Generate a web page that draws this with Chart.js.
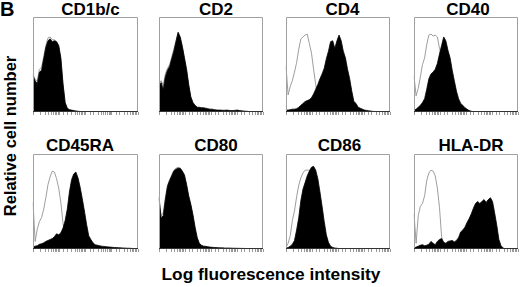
<!DOCTYPE html>
<html><head><meta charset="utf-8">
<script src="https://cdn.jsdelivr.net/npm/chart.js@4.4.1/dist/chart.umd.min.js"></script>
<style>
html,body{margin:0;padding:0;background:#fff;}
#fig{position:relative;width:520px;height:287px;overflow:hidden;background:#fff;font-family:"Liberation Sans",Arial,Helvetica,sans-serif;font-weight:bold;color:#000;}
.t{position:absolute;white-space:nowrap;line-height:1;}
canvas{position:absolute;}
</style></head><body><div id="fig"></div>
<script>
// ---- DATA (relative cell number per fluorescence channel, 0..1 of panel height) ----
const channels = Array.from({length: 50}, (_, i) => i);
const panelTitles = ['CD1b/c','CD2','CD4','CD40','CD45RA','CD80','CD86','HLA-DR'];
const figLetter = 'B';
const yAxisLabel = 'Relative cell number';
const xAxisLabel = 'Log fluorescence intensity';

const cd1bcStained = [0.38,0.33,0.30,0.42,0.44,0.56,0.68,0.75,0.77,0.74, 0.75,0.74,0.70,0.57,0.30,0.10,0.04,0.025,0.02,0.015, 0.01,0.008,0.005,0.004,0.003,0.002,0.002,0.001,0,0, 0,0,0,0,0,0,0,0,0,0, 0,0,0,0,0,0,0,0,0,0];
const cd1bcControl = [0.40,0.34,0.33,0.45,0.47,0.58,0.70,0.78,0.79,0.76, 0.76,0.74,0.69,0.55,0.28,0.09,0.03,0.02,0.015,0.01, 0.008,0.005,0.003,0.002,0,0,0,0,0,0, 0,0,0,0,0,0,0,0,0,0, 0,0,0,0,0,0,0,0,0,0];

const cd2Stained = [0.27,0.31,0.24,0.37,0.44,0.48,0.56,0.64,0.74,0.84, 0.79,0.69,0.57,0.45,0.29,0.16,0.10,0.07,0.05,0.05, 0.045,0.045,0.04,0.035,0.03,0.03,0.025,0.022,0.02,0.02, 0.018,0.018,0.02,0.017,0.015,0.015,0.018,0.02,0.015,0.012, 0.01,0.008,0.006,0.004,0.002,0,0,0,0,0];
const cd2Control = [0.30,0.33,0.28,0.40,0.46,0.50,0.58,0.66,0.75,0.83, 0.78,0.68,0.55,0.43,0.27,0.14,0.08,0.05,0.04,0.03, 0.025,0.02,0.018,0.015,0.012,0.01,0.008,0.006,0.005,0.004, 0.003,0.002,0,0,0,0,0,0,0,0, 0,0,0,0,0,0,0,0,0,0];

const cd4Stained = [0.02,0.02,0.025,0.03,0.03,0.035,0.05,0.07,0.09,0.11, 0.12,0.13,0.15,0.19,0.24,0.29,0.35,0.40,0.46,0.56, 0.64,0.74,0.75,0.67,0.75,0.81,0.75,0.64,0.57,0.45, 0.35,0.22,0.11,0.09,0.05,0.04,0.03,0.02,0.017,0.012, 0.01,0.006,0.004,0,0,0,0,0,0,0];
const cd4Control = [0.48,0.18,0.27,0.33,0.42,0.52,0.66,0.77,0.79,0.81, 0.82,0.72,0.62,0.45,0.29,0.14,0.07,0.045,0.03,0.015, 0.008,0.005,0,0,0,0,0,0,0,0, 0,0,0,0,0,0,0,0,0,0, 0,0,0,0,0,0,0,0,0,0];

const cd40Stained = [0.02,0.03,0.05,0.07,0.10,0.14,0.24,0.35,0.40,0.42, 0.45,0.51,0.61,0.70,0.79,0.75,0.65,0.57,0.44,0.33, 0.22,0.14,0.09,0.07,0.045,0.03,0.015,0.008,0.004,0, 0,0,0,0,0,0,0,0,0,0, 0,0,0,0,0,0,0,0,0,0];
const cd40Control = [0.38,0.17,0.25,0.37,0.50,0.57,0.71,0.81,0.82,0.80, 0.81,0.79,0.67,0.60,0.50,0.40,0.30,0.20,0.12,0.07, 0.04,0.02,0.01,0,0,0,0,0,0,0, 0,0,0,0,0,0,0,0,0,0, 0,0,0,0,0,0,0,0,0,0];

const cd45raStained = [0.02,0.03,0.035,0.05,0.055,0.065,0.08,0.09,0.10,0.11, 0.13,0.16,0.15,0.17,0.22,0.30,0.42,0.60,0.73,0.79, 0.81,0.75,0.65,0.53,0.40,0.26,0.14,0.10,0.065,0.045, 0.04,0.035,0.03,0.027,0.025,0.022,0.02,0.018,0.016,0.015, 0.013,0.012,0.01,0.01,0.008,0.008,0.006,0.005,0.005,0.004];
const cd45raControl = [0.49,0.08,0.21,0.29,0.33,0.42,0.54,0.68,0.76,0.82, 0.81,0.74,0.64,0.49,0.27,0.14,0.08,0.05,0.03,0.02, 0.01,0,0,0,0,0,0,0,0,0, 0,0,0,0,0,0,0,0,0,0, 0,0,0,0,0,0,0,0,0,0];

const cd80Stained = [0.53,0.33,0.35,0.52,0.66,0.72,0.77,0.82,0.84,0.85, 0.85,0.82,0.78,0.68,0.56,0.47,0.36,0.23,0.12,0.06, 0.04,0.03,0.028,0.024,0.02,0.018,0.016,0.015,0.014,0.012, 0.012,0.01,0.01,0.01,0.009,0.008,0.008,0.007,0.007,0.006, 0.006,0.005,0.005,0.004,0.004,0.003,0.003,0.002,0.002,0.001];
const cd80Control = [0.55,0.35,0.38,0.54,0.67,0.73,0.78,0.83,0.85,0.86, 0.85,0.81,0.76,0.66,0.54,0.45,0.34,0.21,0.10,0.05, 0.03,0.02,0.015,0.01,0.008,0.006,0.005,0.004,0.003,0.002, 0,0,0,0,0,0,0,0,0,0, 0,0,0,0,0,0,0,0,0,0];

const cd86Stained = [0.01,0.015,0.03,0.05,0.09,0.20,0.33,0.51,0.63,0.70, 0.77,0.82,0.86,0.87,0.83,0.74,0.60,0.45,0.29,0.15, 0.07,0.03,0.017,0.01,0.008,0.004,0,0,0,0, 0,0,0,0,0,0,0,0,0,0, 0,0,0,0,0,0,0,0,0,0];
const cd86Control = [0.02,0.06,0.14,0.30,0.40,0.55,0.67,0.75,0.80,0.83, 0.83,0.83,0.80,0.75,0.65,0.55,0.45,0.30,0.20,0.10, 0.04,0.02,0.01,0,0,0,0,0,0,0, 0,0,0,0,0,0,0,0,0,0, 0,0,0,0,0,0,0,0,0,0];

const hladrStained = [0.01,0.02,0.03,0.04,0.045,0.035,0.04,0.05,0.08,0.06, 0.045,0.08,0.10,0.11,0.07,0.06,0.08,0.085,0.09,0.075, 0.09,0.12,0.18,0.20,0.23,0.28,0.32,0.37,0.43,0.48, 0.50,0.48,0.50,0.52,0.49,0.52,0.54,0.50,0.38,0.25, 0.10,0.035,0.01,0,0,0,0,0,0,0];
const hladrControl = [0.37,0.06,0.35,0.45,0.48,0.56,0.72,0.80,0.83,0.82, 0.77,0.64,0.44,0.13,0.05,0.02,0,0,0,0, 0,0,0,0,0,0,0,0,0,0, 0,0,0,0,0,0,0,0,0,0, 0,0,0,0,0,0,0,0,0,0];

const stainedSeries = [cd1bcStained, cd2Stained, cd4Stained, cd40Stained, cd45raStained, cd80Stained, cd86Stained, hladrStained];
const controlSeries = [cd1bcControl, cd2Control, cd4Control, cd40Control, cd45raControl, cd80Control, cd86Control, hladrControl];

// ---- LAYOUT ----
const colLeft = [33, 159, 286, 414];
const colWidth = [105, 104, 104, 104];
const rowTop = [17, 154];
const boxH = 95;
const titleCenter = [90.5, 216, 342.5, 468, 80, 216, 339.5, 471];
const titleTop = [1, 137];

const fig = document.getElementById('fig');
function addText(txt, css) {
  const d = document.createElement('div');
  d.className = 't';
  d.textContent = txt;
  Object.assign(d.style, css);
  fig.appendChild(d);
  return d;
}
addText(figLetter, {left: '0px', top: '-1px', fontSize: '20px'});
addText(yAxisLabel, {left: '10px', top: '136px', fontSize: '16.5px', transform: 'translate(-50%,-50%) rotate(-90deg)'});
addText(xAxisLabel, {left: '271px', top: '266px', fontSize: '17.3px', transform: 'translateX(-50%)'});

const framePlugin = {
  id: 'frame',
  afterDatasetsDraw(chart) {
    const a = chart.chartArea, c = chart.ctx;
    c.save();
    c.lineWidth = 1;
    c.strokeStyle = '#a0a0a0';
    c.beginPath();
    c.moveTo(a.left + 0.5, a.bottom);
    c.lineTo(a.left + 0.5, a.top + 0.5);
    c.lineTo(a.right - 0.5, a.top + 0.5);
    c.lineTo(a.right - 0.5, a.bottom);
    c.stroke();
    c.strokeStyle = '#333';
    c.beginPath();
    c.moveTo(a.left, a.bottom - 0.5);
    c.lineTo(a.right, a.bottom - 0.5);
    c.stroke();
    c.restore();
  }
};

panelTitles.forEach((title, k) => {
  const row = Math.floor(k / 4), col = k % 4;
  const L = colLeft[col], W = colWidth[col], T = rowTop[row];
  addText(title, {left: titleCenter[k] + 'px', top: titleTop[row] + 'px', fontSize: '17px', transform: 'translateX(-50%)'});
  const cv = document.createElement('canvas');
  cv.width = W + 2; cv.height = boxH + 4;
  cv.style.left = (L - 1) + 'px'; cv.style.top = (T - 1) + 'px';
  cv.style.width = (W + 2) + 'px'; cv.style.height = (boxH + 4) + 'px';
  fig.appendChild(cv);
  new Chart(cv, {
    type: 'line',
    data: {
      labels: channels,
      datasets: [
        {label: title + ' stained', data: stainedSeries[k], fill: 'origin', backgroundColor: '#000', borderColor: '#000', borderWidth: 0.8, pointRadius: 0, tension: 0},
        {label: title + ' control', data: controlSeries[k], fill: false, borderColor: '#939393', borderWidth: 0.9, pointRadius: 0, tension: 0}
      ]
    },
    options: {
      responsive: false, animation: false, devicePixelRatio: 1,
      layout: {padding: {left: 1, right: 1, top: 1, bottom: 0}},
      plugins: {legend: {display: false}, tooltip: {enabled: false}, title: {display: false}},
      scales: {
        x: {type: 'category', display: false, offset: false},
        y: {display: false, min: 0, max: 1},
        xlog: {type: 'logarithmic', position: 'bottom', display: true, min: 1, max: 10000,
               ticks: {display: false, autoSkip: false},
               border: {display: false},
               grid: {drawOnChartArea: false, drawTicks: true, tickLength: 3, color: '#9a9a9a', lineWidth: 1}}
      }
    },
    plugins: [framePlugin]
  });
});
</script></body></html>
